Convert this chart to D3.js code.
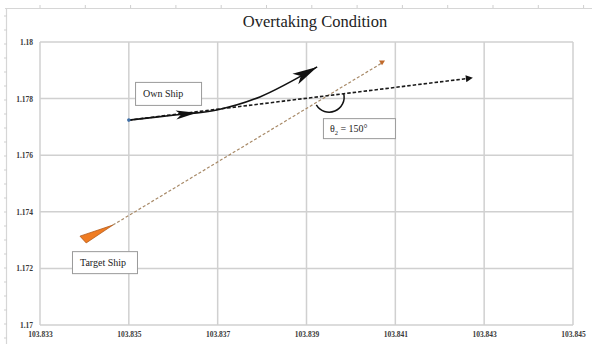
<!DOCTYPE html>
<html>
<head>
<meta charset="utf-8">
<script src="https://cdn.jsdelivr.net/npm/d3@7"></script>
<style>
  html, body { margin: 0; padding: 0; background: #fff; }
  svg { display: block; }
</style>
</head>
<body>
<svg id="chart" width="592" height="344"></svg>
<script>
// ---------- data ----------
const title = "Overtaking Condition";
const xTicks = [103.833, 103.835, 103.837, 103.839, 103.841, 103.843, 103.845];
const xTickLabels = ["103.833", "103.835", "103.837", "103.839", "103.841", "103.843", "103.845"];
const yTicks = [1.17, 1.172, 1.174, 1.176, 1.178, 1.18];
const yTickLabels = ["1.17", "1.172", "1.174", "1.176", "1.178", "1.18"];

// Own ship actual track (curved, solid)
const ownTrackX = [103.8350, 103.83604, 103.83698, 103.83795, 103.83924];
const ownTrackY = [1.17724, 1.17742, 1.17760, 1.17806, 1.17912];
// Own ship heading (straight, dashed)
const ownHeadingX = [103.8350, 103.84273];
const ownHeadingY = [1.17724, 1.17873];
// Target ship track (dashed)
const targetX = [103.83464, 103.8407];
const targetY = [1.17353, 1.17926];
// Target ship wedge marker (tip, base1, base2)
const targetShapeX = [103.83464, 103.83390, 103.83404];
const targetShapeY = [1.17353, 1.17314, 1.17290];

// Annotation labels (top-left anchor in data units)
const labelTexts = ["Own Ship", "Target Ship"];
const labelX = [103.83514, 103.83372];
const labelY = [1.17859, 1.17261];
const angleLabelX = 103.83937, angleLabelY = 1.17731;
const angleValue = "150°";

// ---------- layout ----------
const svg = d3.select("#chart");
const W = 592, H = 344;
const margin = { left: 40, right: 19, top: 42, bottom: 19 };

const x = d3.scaleLinear().domain([103.833, 103.845]).range([margin.left, W - margin.right]);
const y = d3.scaleLinear().domain([1.17, 1.18]).range([H - margin.bottom, margin.top]);

// outer frame (ruler-like border of source)
const frame = svg.append("g");
frame.append("line").attr("x1", 5).attr("x2", W).attr("y1", 8.5).attr("y2", 8.5)
  .attr("stroke", "#d6d6d6").attr("stroke-width", 1.2);
frame.append("line").attr("x1", 6.5).attr("x2", 6.5).attr("y1", 8).attr("y2", H)
  .attr("stroke", "#d6d6d6").attr("stroke-width", 1.2);
d3.range(40, W, 45.3).forEach(px => {
  frame.append("line").attr("x1", px).attr("x2", px).attr("y1", 5).attr("y2", 8)
    .attr("stroke", "#cfcfcf").attr("stroke-width", 1);
});
d3.range(16, H, 14).forEach(py => {
  frame.append("line").attr("x1", 4).attr("x2", 7).attr("y1", py).attr("y2", py)
    .attr("stroke", "#cfcfcf").attr("stroke-width", 1);
});

// title
svg.append("text")
  .attr("x", 315).attr("y", 27)
  .attr("text-anchor", "middle")
  .attr("font-family", "'Liberation Serif', 'DejaVu Serif', serif")
  .attr("font-size", 16.5)
  .attr("fill", "#222")
  .text(title);

// gridlines
const grid = svg.append("g");
grid.selectAll(".vg").data(xTicks).join("line")
  .attr("x1", d => x(d)).attr("x2", d => x(d))
  .attr("y1", y(1.18)).attr("y2", y(1.17))
  .attr("stroke", "#d0d0d0").attr("stroke-width", 1.5);
grid.selectAll(".hg").data(yTicks).join("line")
  .attr("x1", x(103.833)).attr("x2", x(103.845))
  .attr("y1", d => y(d)).attr("y2", d => y(d))
  .attr("stroke", "#d0d0d0").attr("stroke-width", 1.5);

// axes via d3 axis (labels only)
const xAxis = d3.axisBottom(x).tickValues(xTicks).tickFormat((d, i) => xTickLabels[i]).tickSize(0).tickPadding(7);
const yAxis = d3.axisLeft(y).tickValues(yTicks).tickFormat((d, i) => yTickLabels[i]).tickSize(0).tickPadding(7);
const gx = svg.append("g").attr("transform", `translate(0,${y(1.17)})`).call(xAxis);
const gy = svg.append("g").attr("transform", `translate(${x(103.833)},0)`).call(yAxis);
[gx, gy].forEach(g => {
  g.select(".domain").remove();
  g.attr("color", "#2a2a2a");
  g.selectAll("text")
    .attr("font-family", "'Liberation Serif', 'DejaVu Serif', serif")
    .attr("font-size", 7.5)
    .attr("font-weight", "bold")
    .attr("fill", "#3a3a3a");
});

// markers
const defs = svg.append("defs");
defs.append("marker").attr("id", "arrSmall")
  .attr("viewBox", "0 0 10 10").attr("refX", 9).attr("refY", 5)
  .attr("markerUnits", "userSpaceOnUse").attr("markerWidth", 8).attr("markerHeight", 7)
  .attr("orient", "auto")
  .append("path").attr("d", "M0,0 L10,5 L0,10 Z").attr("fill", "#111");
defs.append("marker").attr("id", "triTarget")
  .attr("viewBox", "0 0 10 10").attr("refX", 5).attr("refY", 5)
  .attr("markerUnits", "userSpaceOnUse").attr("markerWidth", 6).attr("markerHeight", 6)
  .attr("orient", 0)
  .append("path").attr("d", "M0,1 L10,1 L5,9 Z").attr("fill", "#c0692a");

const line = d3.line().x(d => x(d[0])).y(d => y(d[1]));

// target track (dashed tan)
const targetPts = targetX.map((v, i) => [v, targetY[i]]);
svg.append("path").datum(targetPts)
  .attr("d", line)
  .attr("fill", "none")
  .attr("stroke", "#a88a68")
  .attr("stroke-width", 1.2)
  .attr("stroke-dasharray", "3,2")
  .attr("marker-end", "url(#triTarget)");

// target ship wedge
const wedgePts = targetShapeX.map((v, i) => [v, targetShapeY[i]]);
svg.append("path").datum(wedgePts)
  .attr("d", d => line(d) + "Z")
  .attr("fill", "#f07c22")
  .attr("stroke", "#b35a1a")
  .attr("stroke-width", 0.8);

// own heading (dashed black)
const headingPts = ownHeadingX.map((v, i) => [v, ownHeadingY[i]]);
svg.append("path").datum(headingPts)
  .attr("d", line)
  .attr("fill", "none")
  .attr("stroke", "#1a1a1a")
  .attr("stroke-width", 1.6)
  .attr("stroke-dasharray", "3.5,2")
  .attr("marker-end", "url(#arrSmall)");

// own track (solid curve)
const trackPts = ownTrackX.map((v, i) => [v, ownTrackY[i]]);
const curveLine = d3.line().x(d => x(d[0])).y(d => y(d[1])).curve(d3.curveCatmullRom.alpha(0.5));
const trackPath = svg.append("path").datum(trackPts)
  .attr("d", curveLine)
  .attr("fill", "none")
  .attr("stroke", "#111")
  .attr("stroke-width", 1.6);

// arrowheads along own track
function arrowAt(pathNode, frac, len, halfW) {
  const L = pathNode.getTotalLength();
  const tip = pathNode.getPointAtLength(L * frac);
  const back = pathNode.getPointAtLength(Math.max(0, L * frac - len));
  const dx = tip.x - back.x, dy = tip.y - back.y;
  const n = Math.hypot(dx, dy) || 1;
  const ux = dx / n, uy = dy / n;
  const bx = tip.x - ux * len, by = tip.y - uy * len;
  const p1 = [bx - uy * halfW, by + ux * halfW];
  const p2 = [bx + uy * halfW, by - ux * halfW];
  svg.append("path")
    .attr("d", `M${tip.x},${tip.y}L${p1[0]},${p1[1]}L${bx + ux * len * 0.25},${by + uy * len * 0.25}L${p2[0]},${p2[1]}Z`)
    .attr("fill", "#111");
}
arrowAt(trackPath.node(), 0.345, 21, 4.5);
arrowAt(trackPath.node(), 1.0, 25, 6);

// start point of own ship
svg.append("circle")
  .attr("cx", x(ownTrackX[0])).attr("cy", y(ownTrackY[0]))
  .attr("r", 1.8).attr("fill", "#3f6fa6");

// angle arc at intersection of own heading and target track
(function () {
  const a1 = [x(ownHeadingX[0]), y(ownHeadingY[0])], a2 = [x(ownHeadingX[1]), y(ownHeadingY[1])];
  const b1 = [x(targetX[0]), y(targetY[0])], b2 = [x(targetX[1]), y(targetY[1])];
  const d = (a2[0] - a1[0]) * (b2[1] - b1[1]) - (a2[1] - a1[1]) * (b2[0] - b1[0]);
  const t = ((b1[0] - a1[0]) * (b2[1] - b1[1]) - (b1[1] - a1[1]) * (b2[0] - b1[0])) / d;
  const cx = a1[0] + t * (a2[0] - a1[0]) + 1.5, cy = a1[1] + t * (a2[1] - a1[1]) + 1.5;
  const r = 15;
  const angStart = Math.atan2(b1[1] - b2[1], b1[0] - b2[0]); // toward target origin
  const angEnd = Math.atan2(a2[1] - a1[1], a2[0] - a1[0]) - 0.12;     // own heading forward
  const sx = cx + r * Math.cos(angStart), sy = cy + r * Math.sin(angStart);
  const ex = cx + r * Math.cos(angEnd), ey = cy + r * Math.sin(angEnd);
  svg.append("path")
    .attr("d", `M${sx},${sy} A${r},${r} 0 0 0 ${ex},${ey}`)
    .attr("fill", "none").attr("stroke", "#111").attr("stroke-width", 1.5);
})();

// label boxes
const boxFont = "'Liberation Serif', 'DejaVu Serif', serif";
const boxW = [66, 65], boxH = [23, 22];
labelTexts.forEach((t, i) => {
  const bx = x(labelX[i]), by = y(labelY[i]);
  svg.append("rect").attr("x", bx + 0.5).attr("y", by + 0.5)
    .attr("width", boxW[i]).attr("height", boxH[i])
    .attr("fill", "#fff").attr("stroke", "#9a9a9a").attr("stroke-width", 1);
  svg.append("text").attr("x", bx + 8).attr("y", by + boxH[i] / 2 + 4)
    .attr("font-family", boxFont).attr("font-size", 10).attr("fill", "#222")
    .text(t);
});
(function () {
  const bx = x(angleLabelX), by = y(angleLabelY);
  svg.append("rect").attr("x", bx + 0.5).attr("y", by + 0.5)
    .attr("width", 72).attr("height", 20)
    .attr("fill", "#fff").attr("stroke", "#9a9a9a").attr("stroke-width", 1);
  const tx = svg.append("text").attr("x", bx + 7).attr("y", by + 14)
    .attr("font-family", boxFont).attr("font-size", 10).attr("fill", "#222");
  tx.append("tspan").text("θ");
  tx.append("tspan").attr("font-size", 6.5).attr("dy", 2.5).text("2");
  tx.append("tspan").attr("dy", -2.5).text(" = " + angleValue);
})();
</script>
</body>
</html>
